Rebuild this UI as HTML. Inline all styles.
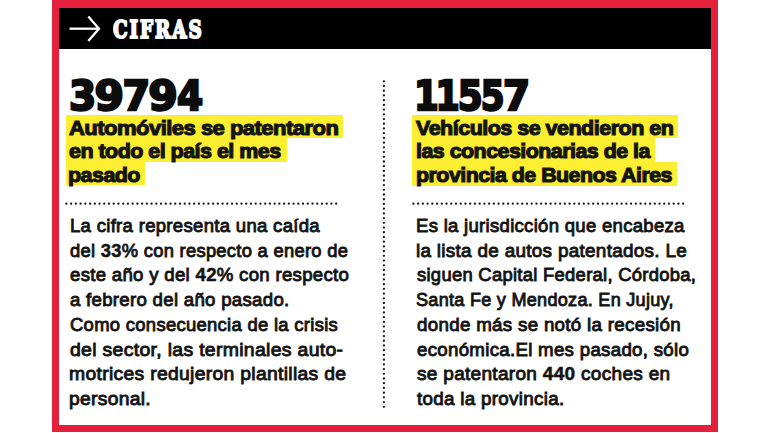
<!DOCTYPE html>
<html lang="es"><head><meta charset="utf-8"><title>Cifras</title><style>
html,body{margin:0;padding:0;background:#fff;}
body{width:770px;height:433px;position:relative;overflow:hidden;font-family:"Liberation Sans", sans-serif;}
.frame{position:absolute;left:52px;top:0;width:652px;height:417.3px;border:7px solid #e5203d;border-top-width:8px;border-bottom-width:7px;background:#fff;}
.bar{position:absolute;left:59.2px;top:7.9px;width:651.8px;height:41.5px;background:#000;}
.hl{position:absolute;background:#fcee30;}
.t b{font-weight:700;-webkit-text-stroke-width:0.5px;}
.t{position:absolute;white-space:nowrap;line-height:1;transform-origin:0 0;margin:0;}
h1,h2,p,header,section{margin:0;padding:0;font-weight:inherit;font-size:inherit;}
</style></head><body>
<div class="frame"></div>
<header><div class="bar"></div>
<svg class="arrow" style="position:absolute;left:66px;top:12px" width="40" height="34" viewBox="0 0 40 34" aria-hidden="true"><g fill="none" stroke="#fff" stroke-width="2.3" stroke-linecap="butt" stroke-linejoin="miter"><path d="M3.5 16.7 H32.0"/><path d="M22.3 4.5 L33.0 16.7 L22.3 28.9"/></g></svg>
<h1 class="t" id="cif" style='left:113.41px;top:17.88px;font-family:"DejaVu Serif", "Liberation Serif", serif;font-size:24.4px;font-weight:700;color:#fff;transform:scaleX(0.7517);-webkit-text-stroke:2.0px #fff;letter-spacing:2.6px;'>CIFRAS</h1>
</header>
<svg class="rules" style="position:absolute;left:0;top:0" width="770" height="433" viewBox="0 0 770 433" aria-hidden="true"><g fill="none" stroke="#161616" stroke-width="2.3" stroke-linecap="round"><path d="M66.4 203.7 H336.2" stroke-dasharray="0 4.7327"/><path d="M413.4 203.7 H683.2" stroke-dasharray="0 4.7327"/><path d="M383.9 81.3 V406.9" stroke-dasharray="0 4.7174"/></g></svg>
<section>
<svg class="num" role="img" aria-label="39794" width="770" height="130" viewBox="0 0 770 130" style="position:absolute;left:0;top:0;overflow:visible"><title>39794</title><text id="n1" transform="matrix(1 0 0 1.0029 0 0)" y="109.67" font-family='"DejaVu Sans", "Liberation Sans", sans-serif' font-weight="700" font-size="41.4" fill="#0c0c0c" stroke="#0c0c0c" stroke-width="2.4" stroke-linejoin="miter" stroke-miterlimit="3"><tspan x="69.05" textLength="27.16" lengthAdjust="spacingAndGlyphs">3</tspan><tspan x="94.55" textLength="29.49" lengthAdjust="spacingAndGlyphs">9</tspan><tspan x="122.48" textLength="27.70" lengthAdjust="spacingAndGlyphs">7</tspan><tspan x="148.36" textLength="29.55" lengthAdjust="spacingAndGlyphs">9</tspan><tspan x="176.90" textLength="26.15" lengthAdjust="spacingAndGlyphs">4</tspan></text></svg>
<i class="hl" style="left:66.3px;top:115.0px;width:276.6px;height:23.3px"></i><i class="hl" style="left:66.3px;top:138.0px;width:220.3px;height:24.2px"></i><i class="hl" style="left:66.3px;top:162.0px;width:78.9px;height:23.4px"></i>
<h2><span class="t" id="h11" style='left:69.06px;top:117.92px;font-family:"Liberation Sans", sans-serif;font-size:20.8px;font-weight:700;color:#141414;transform:scaleX(1.0587);-webkit-text-stroke:1.15px #141414;letter-spacing:-0.5px;'>Automóviles se patentaron</span>
<span class="t" id="h12" style='left:68.87px;top:140.92px;font-family:"Liberation Sans", sans-serif;font-size:20.8px;font-weight:700;color:#141414;transform:scaleX(1.0314);-webkit-text-stroke:1.15px #141414;letter-spacing:-0.5px;'>en todo el país el mes</span>
<span class="t" id="h13" style='left:68.24px;top:164.92px;font-family:"Liberation Sans", sans-serif;font-size:20.8px;font-weight:700;color:#141414;transform:scaleX(1.0306);-webkit-text-stroke:1.15px #141414;letter-spacing:-0.5px;'>pasado</span></h2>
<p><span class="t" id="bl0" style='left:69.61px;top:215.93px;font-family:"Liberation Sans", sans-serif;font-size:19.2px;font-weight:400;color:#141414;transform:scaleX(0.9677);-webkit-text-stroke:0.9px #141414;letter-spacing:0.3px;'>La cifra representa una caída</span>
<span class="t" id="bl1" style='left:70.44px;top:240.93px;font-family:"Liberation Sans", sans-serif;font-size:19.2px;font-weight:400;color:#141414;transform:scaleX(0.9562);-webkit-text-stroke:0.9px #141414;letter-spacing:0.3px;'>del <b>33</b>% con respecto a enero de</span>
<span class="t" id="bl2" style='left:70.44px;top:265.43px;font-family:"Liberation Sans", sans-serif;font-size:19.2px;font-weight:400;color:#141414;transform:scaleX(0.9704);-webkit-text-stroke:0.9px #141414;letter-spacing:0.3px;'>este año y del <b>42</b>% con respecto</span>
<span class="t" id="bl3" style='left:70.44px;top:289.93px;font-family:"Liberation Sans", sans-serif;font-size:19.2px;font-weight:400;color:#141414;transform:scaleX(0.9705);-webkit-text-stroke:0.9px #141414;letter-spacing:0.3px;'>a febrero del año pasado.</span>
<span class="t" id="bl4" style='left:69.81px;top:314.93px;font-family:"Liberation Sans", sans-serif;font-size:19.2px;font-weight:400;color:#141414;transform:scaleX(0.9614);-webkit-text-stroke:0.9px #141414;letter-spacing:0.3px;'>Como consecuencia de la crisis</span>
<span class="t" id="bl5" style='left:70.44px;top:339.93px;font-family:"Liberation Sans", sans-serif;font-size:19.2px;font-weight:400;color:#141414;transform:scaleX(1.0132);-webkit-text-stroke:0.9px #141414;letter-spacing:0.3px;'>del sector, las terminales auto-</span>
<span class="t" id="bl6" style='left:68.98px;top:364.43px;font-family:"Liberation Sans", sans-serif;font-size:19.2px;font-weight:400;color:#141414;transform:scaleX(1.0080);-webkit-text-stroke:0.9px #141414;letter-spacing:0.3px;'>motrices redujeron plantillas de</span>
<span class="t" id="bl7" style='left:69.09px;top:388.93px;font-family:"Liberation Sans", sans-serif;font-size:19.2px;font-weight:400;color:#141414;transform:scaleX(1.0044);-webkit-text-stroke:0.9px #141414;letter-spacing:0.3px;'>personal.</span></p>
</section>
<section>
<svg class="num" role="img" aria-label="11557" width="770" height="130" viewBox="0 0 770 130" style="position:absolute;left:0;top:0;overflow:visible"><title>11557</title><text id="n2" transform="matrix(1 0 0 1.0015 0 0)" y="109.44" font-family='"DejaVu Sans", "Liberation Sans", sans-serif' font-weight="700" font-size="41.4" fill="#0c0c0c" stroke="#0c0c0c" stroke-width="2.4" stroke-linejoin="miter" stroke-miterlimit="3"><tspan x="413.93" textLength="24.84" lengthAdjust="spacingAndGlyphs">1</tspan><tspan x="435.48" textLength="24.29" lengthAdjust="spacingAndGlyphs">1</tspan><tspan x="457.77" textLength="24.92" lengthAdjust="spacingAndGlyphs">5</tspan><tspan x="480.88" textLength="23.83" lengthAdjust="spacingAndGlyphs">5</tspan><tspan x="503.05" textLength="27.15" lengthAdjust="spacingAndGlyphs">7</tspan></text></svg>
<i class="hl" style="left:412.1px;top:115.0px;width:266.4px;height:23.3px"></i><i class="hl" style="left:412.1px;top:138.0px;width:242.9px;height:24.2px"></i><i class="hl" style="left:412.1px;top:162.0px;width:264.9px;height:23.8px"></i>
<h2><span class="t" id="h21" style='left:415.98px;top:117.92px;font-family:"Liberation Sans", sans-serif;font-size:20.8px;font-weight:700;color:#141414;transform:scaleX(1.0345);-webkit-text-stroke:1.15px #141414;letter-spacing:-0.5px;'>Vehículos se vendieron en</span>
<span class="t" id="h22" style='left:415.52px;top:140.92px;font-family:"Liberation Sans", sans-serif;font-size:20.8px;font-weight:700;color:#141414;transform:scaleX(1.0289);-webkit-text-stroke:1.15px #141414;letter-spacing:-0.5px;'>las concesionarias de la</span>
<span class="t" id="h23" style='left:415.60px;top:164.92px;font-family:"Liberation Sans", sans-serif;font-size:20.8px;font-weight:700;color:#141414;transform:scaleX(1.0276);-webkit-text-stroke:1.15px #141414;letter-spacing:-0.5px;'>provincia de Buenos Aires</span></h2>
<p><span class="t" id="br0" style='left:415.56px;top:215.93px;font-family:"Liberation Sans", sans-serif;font-size:19.2px;font-weight:400;color:#141414;transform:scaleX(0.9662);-webkit-text-stroke:0.9px #141414;letter-spacing:0.3px;'>Es la jurisdicción que encabeza</span>
<span class="t" id="br1" style='left:416.07px;top:240.93px;font-family:"Liberation Sans", sans-serif;font-size:19.2px;font-weight:400;color:#141414;transform:scaleX(0.9849);-webkit-text-stroke:0.9px #141414;letter-spacing:0.3px;'>la lista de autos patentados. Le</span>
<span class="t" id="br2" style='left:416.51px;top:265.43px;font-family:"Liberation Sans", sans-serif;font-size:19.2px;font-weight:400;color:#141414;transform:scaleX(0.9590);-webkit-text-stroke:0.9px #141414;letter-spacing:0.3px;'>siguen Capital Federal, Córdoba,</span>
<span class="t" id="br3" style='left:415.95px;top:289.93px;font-family:"Liberation Sans", sans-serif;font-size:19.2px;font-weight:400;color:#141414;transform:scaleX(0.9413);-webkit-text-stroke:0.9px #141414;letter-spacing:0.3px;'>Santa Fe y Mendoza. En Jujuy,</span>
<span class="t" id="br4" style='left:417.29px;top:314.93px;font-family:"Liberation Sans", sans-serif;font-size:19.2px;font-weight:400;color:#141414;transform:scaleX(0.9778);-webkit-text-stroke:0.9px #141414;letter-spacing:0.3px;'>donde más se notó la recesión</span>
<span class="t" id="br5" style='left:417.29px;top:339.93px;font-family:"Liberation Sans", sans-serif;font-size:19.2px;font-weight:400;color:#141414;transform:scaleX(0.9733);-webkit-text-stroke:0.9px #141414;letter-spacing:0.3px;'>económica.El mes pasado, sólo</span>
<span class="t" id="br6" style='left:416.51px;top:364.43px;font-family:"Liberation Sans", sans-serif;font-size:19.2px;font-weight:400;color:#141414;transform:scaleX(0.9914);-webkit-text-stroke:0.9px #141414;letter-spacing:0.3px;'>se patentaron <b>440</b> coches en</span>
<span class="t" id="br7" style='left:417.04px;top:388.93px;font-family:"Liberation Sans", sans-serif;font-size:19.2px;font-weight:400;color:#141414;transform:scaleX(0.9801);-webkit-text-stroke:0.9px #141414;letter-spacing:0.3px;'>toda la provincia.</span></p>
</section>
</body></html>
